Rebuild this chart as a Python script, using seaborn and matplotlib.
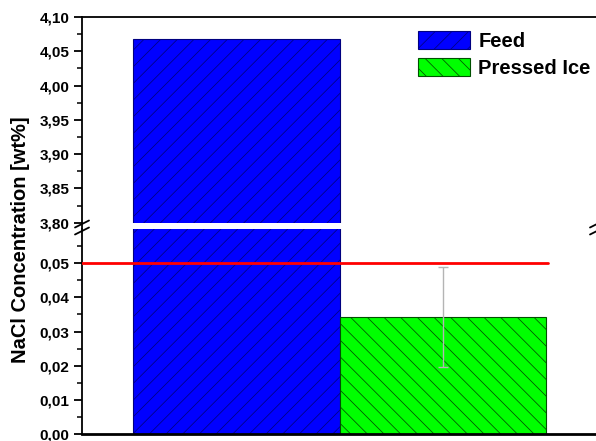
import numpy as np
import pandas as pd
import matplotlib
matplotlib.use("Agg")
import matplotlib.pyplot as plt
from matplotlib.lines import Line2D
from matplotlib.patches import Patch
from matplotlib.ticker import FixedLocator, FuncFormatter
import seaborn as sns

# data
samples = ["Feed", "Pressed Ice"]
conc = [4.068, 0.0342]
conc_err = [0.0, 0.0147]
limit = 0.05
colors = ["#0000ff", "#00ff00"]
hatch_colors = ["#000080", "#005000"]
hatches = ["//", "\\\\"]

df = pd.DataFrame({"sample": samples, "conc": conc})

sns.set_theme(style="white", rc={
    "text.color": "black", "axes.labelcolor": "black", "axes.edgecolor": "black",
    "xtick.color": "black", "ytick.color": "black",
})
plt.rcParams["font.family"] = ["Liberation Sans", "DejaVu Sans"]
plt.rcParams["font.weight"] = "bold"
plt.rcParams["hatch.linewidth"] = 0.55

W, H = 596, 441
fig = plt.figure(figsize=(W / 100, H / 100), dpi=100)

x0, x1 = 82, 599
ax_top = fig.add_axes([x0 / W, (H - 222.7) / H, (x1 - x0) / W, (222.7 - 17) / H])
ax_bot = fig.add_axes([x0 / W, (H - 434) / H, (x1 - x0) / W, (434 - 229) / H])

fmt = FuncFormatter(lambda v, _: f"{v:.2f}".replace(".", ","))

for ax in (ax_top, ax_bot):
    sns.barplot(data=df, x="sample", y="conc", hue="sample", palette=colors,
                width=1.0, ax=ax, legend=False, saturation=1)
    for bar, hc, h in zip(ax.patches, hatch_colors, hatches):
        bar.set_hatch(h)
        bar.set_edgecolor(hc)
        bar.set_linewidth(0.8)
    ax.axhline(limit, xmin=0, xmax=(1.51 + 0.749) / (1.757 + 0.749),
               color="red", lw=2.0, zorder=5)
    ax.set_xlim(-0.749, 1.757)
    ax.set_xlabel("")
    ax.set_ylabel("")
    ax.set_xticks([])
    ax.spines["right"].set_visible(False)
    ax.spines["left"].set_linewidth(1.3)
    ax.yaxis.set_major_formatter(fmt)
    ax.tick_params(axis="y", which="major", direction="out", length=6, width=1.3,
                   labelsize=11, pad=3, left=True)
    ax.tick_params(axis="y", which="minor", direction="out", length=3.5, width=1.1,
                   left=True)

ax_top.set_ylim(3.80, 4.10)
ax_top.yaxis.set_major_locator(FixedLocator(np.arange(3.80, 4.101, 0.05)))
ax_top.yaxis.set_minor_locator(FixedLocator(np.arange(3.825, 4.10, 0.05)))
ax_top.spines["bottom"].set_visible(False)
ax_top.spines["top"].set_linewidth(1.3)

ax_bot.set_ylim(0, 0.06)
ax_bot.yaxis.set_major_locator(FixedLocator(np.arange(0, 0.0501, 0.01)))
ax_bot.yaxis.set_minor_locator(FixedLocator(np.arange(0.005, 0.06, 0.01)))
ax_bot.spines["top"].set_visible(False)
ax_bot.spines["bottom"].set_linewidth(2.0)

ax_bot.errorbar(1, conc[1], yerr=conc_err[1], fmt="none", ecolor="#b4b4b4",
                elinewidth=1.0, capsize=3.5, capthick=1.0, zorder=4)

# continuous left spine across the gap, plus break marks
fx = lambda px: px / W
fy = lambda py: (H - py) / H
fig.add_artist(Line2D([fx(x0), fx(x0)], [fy(222.7), fy(229)], color="black", lw=1.3))
for cx in (x0, 597):
    for cy in (224, 231):
        fig.add_artist(Line2D([fx(cx - 7), fx(cx + 7)], [fy(cy + 3.5), fy(cy - 3.5)],
                              color="black", lw=1.3))

fig.text(fx(21), fy(240), "NaCl Concentration [wt%]", rotation=90,
         ha="center", va="center", fontsize=14.5, fontweight="bold")

handles = [Patch(facecolor=c, edgecolor=hc, hatch=h, lw=0.8)
           for c, hc, h in zip(colors, hatch_colors, hatches)]
fig.legend(handles, samples, loc="upper left", bbox_to_anchor=(fx(418), fy(31)),
           frameon=False, handlelength=2.6, handleheight=1.0,
           labelspacing=0.35, handletextpad=0.4, borderpad=0, borderaxespad=0,
           prop={"weight": "bold", "size": 14.5})

fig.savefig("out.png", dpi=100)
